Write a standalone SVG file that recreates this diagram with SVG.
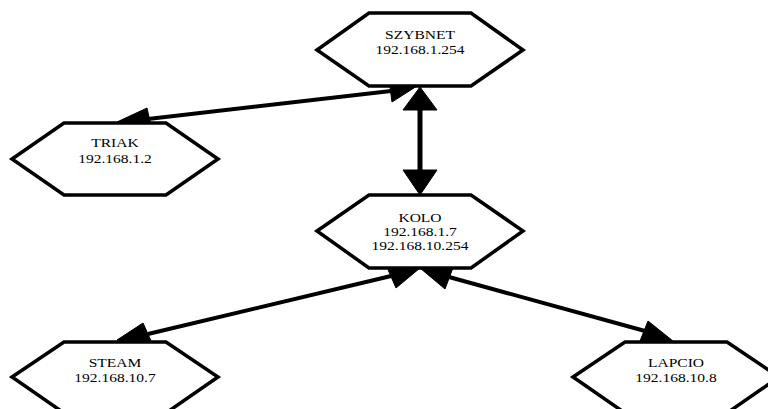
<svg xmlns="http://www.w3.org/2000/svg" width="768" height="409" viewBox="0 0 768 409">
<style>
.hex{fill:#fff;stroke:#000;stroke-width:3.5;stroke-linejoin:miter}
.edge{fill:none;stroke:#000;stroke-width:4}
.head{fill:#000;stroke:#000;stroke-width:1}
.lbl{font-family:'Liberation Serif','Times New Roman',Times,serif;font-size:13.5px;fill:#000;text-anchor:middle}
</style>
<rect width="768" height="409" fill="#fff"/>
<g id="connectors">
<g id="e-szybnet-triak">
<line class="edge" x1="148" y1="119" x2="391" y2="91"/>
<polygon class="head" points="117,122 147,108 152,130"/>
<polygon class="head" points="417,86 389,80 392,102"/>
</g>
<g id="e-szybnet-kolo">
<line class="edge" x1="420" y1="108" x2="420" y2="172" style="stroke-width:5"/>
<polygon class="head" points="420,87 403,110 437,110"/>
<polygon class="head" points="420,195 403,170 437,170"/>
</g>
<g id="e-kolo-steam">
<line class="edge" x1="148" y1="334" x2="391" y2="276"/>
<polygon class="head" points="117,340 143,323 152,343"/>
<polygon class="head" points="420,268 386,265 396,288"/>
</g>
<g id="e-kolo-lapcio">
<line class="edge" x1="449" y1="277" x2="645" y2="331"/>
<polygon class="head" points="420,268 454,265 445,289"/>
<polygon class="head" points="673,341 648,321 640,341"/>
</g>
</g>
<g id="szybnet">
<polygon class="hex" points="317,50 369,13 471,13 523,50 471,86 369,86"/>
<text class="lbl" transform="translate(420,38.5) scale(1.15,1)">SZYBNET</text>
<text class="lbl" transform="translate(420,54) scale(1.15,1)">192.168.1.254</text>
</g>
<g id="triak">
<polygon class="hex" points="12,159 64,123 166,123 218,159 166,195 64,195"/>
<text class="lbl" transform="translate(115,147) scale(1.15,1)">TRIAK</text>
<text class="lbl" transform="translate(115,163) scale(1.15,1)">192.168.1.2</text>
</g>
<g id="kolo">
<polygon class="hex" points="317,231 369,195 471,195 523,231 471,268 369,268"/>
<text class="lbl" transform="translate(420,222) scale(1.15,1)">KOLO</text>
<text class="lbl" transform="translate(420,236) scale(1.15,1)">192.168.1.7</text>
<text class="lbl" transform="translate(420,250) scale(1.15,1)">192.168.10.254</text>
</g>
<g id="steam">
<polygon class="hex" points="12,377 64,342 166,342 218,377 166,413 64,413"/>
<text class="lbl" transform="translate(115,367) scale(1.15,1)">STEAM</text>
<text class="lbl" transform="translate(115,382) scale(1.15,1)">192.168.10.7</text>
</g>
<g id="lapcio">
<polygon class="hex" points="573,377 625,342 727,342 779,377 727,413 625,413"/>
<text class="lbl" transform="translate(676,367) scale(1.15,1)">LAPCIO</text>
<text class="lbl" transform="translate(676,382) scale(1.15,1)">192.168.10.8</text>
</g>
</svg>
